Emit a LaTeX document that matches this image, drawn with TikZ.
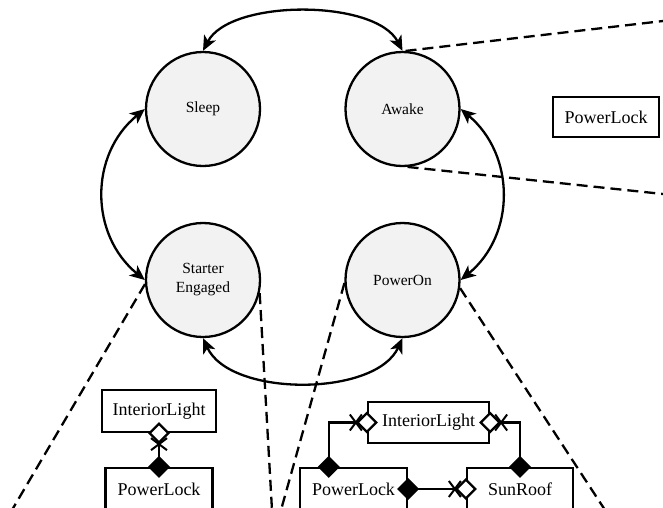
\documentclass[tikz,border=0pt]{standalone}
\usepackage{fontspec}
\setmainfont{Liberation Serif}
\usetikzlibrary{arrows.meta}
\definecolor{statefill}{HTML}{F2F2F2}
\begin{document}
\begin{tikzpicture}[x=1pt,y=-1pt,
  state/.style={circle, draw, line width=2.3pt, fill=statefill, minimum size=114pt,
    inner sep=0pt, align=center, font=\fontsize{15.5}{19}\selectfont},
  trans/.style={line width=2.3pt,
    {Stealth[length=15pt,width=13pt,inset=4pt]}-{Stealth[length=15pt,width=13pt,inset=4pt]}},
  zoomline/.style={line width=2.3pt, dash pattern=on 11pt off 6pt},
  classbox/.style={draw, line width=2.3pt, inner sep=0pt, fill=white,
    font=\fontsize{18}{22}\selectfont},
  assoc/.style={line width=2.3pt, shorten <=-11pt, shorten >=-11pt},
  filledopen/.style={{Diamond[length=22pt,width=22pt]}-{Diamond[length=22pt,width=22pt,fill=white]}},
  openfilled/.style={{Diamond[length=22pt,width=22pt,fill=white]}-{Diamond[length=22pt,width=22pt]}},
  xmark/.pic={\draw[line width=2pt] (-6,-8) -- (6,8) (-6,8) -- (6,-8);}
]
\useasboundingbox (0,0) rectangle (663,507);
\clip (0,0) rectangle (663,507);

% states
\node[state] (sl) at (203,109) {Sleep};
\node[state] (aw) at (402.5,109) {Awake};
\node[state] (se) at (203,280) {Starter\\Engaged};
\node[state] (po) at (402.5,280) {PowerOn};

% transitions
\draw[trans] (sl.north) .. controls +(27,-52) and +(-27,-52) .. (aw.north);
\draw[trans] (sl.west) .. controls +(-56,46) and +(-55,-45) .. (se.west);
\draw[trans] (aw.east) .. controls +(55,46) and +(55,-45) .. (po.east);
\draw[trans] (se.south) .. controls +(27,59) and +(-27,59) .. (po.south);

% detail views
\coordinate (awA) at (663,21);
\coordinate (awB) at (663,194);
\coordinate (seA) at (12,510);
\coordinate (seB) at (272,510);
\coordinate (poA) at (281,510);
\coordinate (poB) at (605,510);
\draw[zoomline] (aw.87) -- (awA);
\draw[zoomline] (aw.-85) -- (awB);
\draw[zoomline] (se.184) -- (seA);
\draw[zoomline] (se.-13) -- (seB);
\draw[zoomline] (po.183) -- (poA);
\draw[zoomline] (po.-8) -- (poB);

% Awake
\node[classbox, minimum width=106pt, minimum height=40pt] (plr) at (606,117) {PowerLock};

% Starter Engaged
\node[classbox, minimum width=114pt, minimum height=42pt] (il1) at (159,411) {InteriorLight};
\node[classbox, minimum width=107pt, minimum height=42pt] (pl1) at (159,489) {PowerLock};
\draw[assoc, filledopen] (pl1.north) -- (il1.south);
\pic[rotate=90] at ([yshift=-11pt]il1.south) {xmark};

% PowerOn
\node[classbox, minimum width=121pt, minimum height=41pt] (il2) at (428.5,422.5) {InteriorLight};
\node[classbox, minimum width=107pt, minimum height=42pt] (pl2) at (353.5,489) {PowerLock};
\node[classbox, minimum width=106pt, minimum height=42pt] (sr) at (520,489) {SunRoof};
\draw[assoc, filledopen] ([xshift=30pt]pl2.north west) |- (il2.west);
\pic at ([xshift=-11pt]il2.west) {xmark};
\draw[assoc, openfilled] (il2.east) -| (sr.north);
\pic at ([xshift=11pt]il2.east) {xmark};
\draw[assoc, filledopen] (pl2.east) -- (sr.west);
\pic at ([xshift=-11pt]sr.west) {xmark};
\end{tikzpicture}
\end{document}
